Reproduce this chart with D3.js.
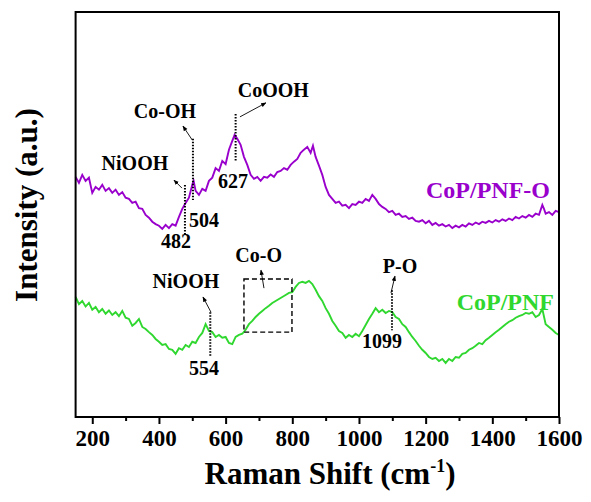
<!DOCTYPE html>
<html>
<head>
<meta charset="utf-8">
<script src="https://cdn.jsdelivr.net/npm/d3@7"></script>
<style>
  body { margin: 0; background: #fff; }
  svg text { font-family: "Liberation Serif", "Times New Roman", serif; font-weight: bold; }
</style>
</head>
<body>
<div id="chart"></div>
<script>
const width = 591;
const height = 502;

// Raman shift (cm-1) and intensity (a.u.)
const shiftO = [150,160,170,180,190,200,210,220,230,240,250,260,270,280,290,300,310,320,330,340,350,360,370,380,390,400,410,420,430,440,450,460,470,480,490,500,504,510,520,530,540,550,560,570,580,590,600,610,620,627,635,645,655,665,675,685,695,705,715,725,735,745,755,765,775,785,795,805,815,825,835,845,855,862,870,880,890,900,910,920,930,940,950,960,970,980,990,1000,1010,1020,1030,1040,1050,1060,1070,1080,1090,1100,1110,1120,1130,1140,1150,1160,1170,1180,1190,1200,1210,1220,1230,1240,1250,1260,1270,1280,1290,1300,1310,1320,1330,1340,1350,1360,1370,1380,1390,1400,1410,1420,1430,1440,1450,1460,1470,1480,1490,1500,1510,1520,1530,1540,1550,1555,1560,1570,1580,1590,1600];
const intensO = [600,585,605,590,598,560,575,568,580,565,572,560,568,555,562,548,545,535,538,522,520,505,498,488,482,478,470,480,472,482,478,500,520,535,548,580,590,565,555,570,565,590,598,622,615,640,632,668,690,705,695,680,650,630,605,595,600,590,600,598,606,600,612,615,622,618,630,638,645,660,668,675,660,678,650,628,605,575,555,545,535,538,528,530,522,532,530,538,535,545,540,555,545,532,525,520,512,515,505,508,500,502,495,498,490,488,492,484,490,480,485,478,482,476,480,472,478,474,480,476,484,480,486,482,488,485,490,486,492,488,494,490,496,492,500,496,502,498,505,500,508,505,530,520,508,512,505,515,512];

const shiftP = [150,160,170,180,190,200,210,220,230,240,250,260,270,280,290,300,310,320,330,340,350,360,370,380,390,400,410,420,430,440,450,460,470,480,490,500,510,520,530,540,550,560,570,580,590,600,610,620,630,640,650,660,670,680,690,700,710,720,730,740,750,760,770,780,790,800,810,820,830,840,850,860,870,880,890,900,910,920,930,940,950,960,970,980,990,1000,1010,1020,1030,1040,1050,1060,1070,1080,1090,1100,1110,1120,1130,1140,1150,1160,1170,1180,1190,1200,1210,1220,1230,1240,1250,1260,1270,1280,1290,1300,1310,1320,1330,1340,1350,1360,1370,1380,1390,1400,1410,1420,1430,1440,1450,1460,1470,1480,1490,1500,1510,1520,1530,1540,1550,1560,1570,1580,1590,1600];
const intensP = [300,282,290,276,285,268,275,262,270,258,266,255,262,252,265,248,245,228,235,245,225,220,212,205,195,188,180,182,170,168,158,172,168,180,175,188,185,200,210,232,215,212,200,205,198,200,185,182,200,205,208,218,232,240,250,258,265,272,278,285,290,295,300,305,310,312,325,335,338,335,340,332,318,302,290,272,258,240,228,215,210,198,205,200,208,202,215,230,245,258,272,262,268,260,265,262,250,245,232,225,212,200,190,178,168,160,150,145,148,140,145,135,145,140,150,148,158,160,168,172,178,185,182,192,198,205,212,218,225,232,238,242,248,252,255,260,258,262,250,255,270,232,225,218,210,205];

const xTicks = [200,400,600,800,1000,1200,1400,1600];
const xMinor = [300,500,700,900,1100,1300,1500];

// peak labels: text, shift, intensity
const labelText = ["NiOOH","Co-OH","CoOOH","504","482","627","NiOOH","Co-O","554","P-O","1099"];
const labelX    = [328, 418, 743, 535, 451, 622, 481, 699, 535, 1123, 1069];
const labelY    = [617, 747, 800, 475, 422, 572, 322, 387, 105, 360, 172];

// dotted peak markers: shift, from / to intensity
const markX  = [478, 502, 630, 554, 1099];
const markY1 = [580, 695, 757, 262, 317];
const markY2 = [455, 542, 637, 150, 217];

// arrows: from (x1,y1) to (x2,y2)
const arrX1 = [469, 500, 643, 556, 715, 1096];
const arrY1 = [572, 692, 750, 262, 322, 310];
const arrX2 = [445, 472, 721, 532, 706, 1108];
const arrY2 = [592, 727, 785, 300, 367, 352];

// Co-O region box
const boxX = [655, 799];
const boxY = [212, 345];

const purple = "#9900cc";
const green = "#2fd72f";

const x = d3.scaleLinear().domain([150, 1600]).range([75.6, 559]);
const y = d3.scaleLinear().domain([0, 1012]).range([417, 12]);

const svg = d3.select("#chart").append("svg")
  .attr("width", width)
  .attr("height", height);

svg.append("defs").append("marker")
  .attr("id", "head")
  .attr("viewBox", "0 0 10 10")
  .attr("refX", 9).attr("refY", 5)
  .attr("markerWidth", 6).attr("markerHeight", 6)
  .attr("orient", "auto")
  .append("path")
  .attr("d", "M0,1 L10,5 L0,9 Z")
  .attr("fill", "#000");

const line = d3.line().x(d => x(d[0])).y(d => y(d[1]));

svg.append("path")
  .datum(d3.zip(shiftO, intensO))
  .attr("d", line)
  .attr("fill", "none")
  .attr("stroke", purple)
  .attr("stroke-width", 1.9);

svg.append("path")
  .datum(d3.zip(shiftP, intensP))
  .attr("d", line)
  .attr("fill", "none")
  .attr("stroke", green)
  .attr("stroke-width", 1.9);

// frame
svg.append("rect")
  .attr("x", x(150)).attr("y", y(1012))
  .attr("width", x(1600) - x(150))
  .attr("height", y(0) - y(1012))
  .attr("fill", "none")
  .attr("stroke", "#000")
  .attr("stroke-width", 2);

const gx = svg.append("g").attr("transform", `translate(0,${y(0)})`)
  .call(d3.axisBottom(x).tickValues(xTicks).tickSize(7).tickPadding(6).tickFormat(d3.format("d")));
gx.select(".domain").remove();
gx.selectAll(".tick line").attr("stroke-width", 2);
gx.selectAll(".tick text").attr("font-size", 23).attr("fill", "#000")
  .style("font-family", "'Liberation Serif', serif").style("font-weight", "bold");

const gm = svg.append("g").attr("transform", `translate(0,${y(0)})`)
  .call(d3.axisBottom(x).tickValues(xMinor).tickSize(4).tickFormat(""));
gm.select(".domain").remove();
gm.selectAll(".tick line").attr("stroke-width", 2);

// dotted markers
svg.append("g").selectAll("line")
  .data(markX)
  .join("line")
  .attr("x1", d => x(d)).attr("x2", d => x(d))
  .attr("y1", (d, i) => y(markY1[i]))
  .attr("y2", (d, i) => y(markY2[i]))
  .attr("stroke", "#000")
  .attr("stroke-width", 2)
  .attr("stroke-dasharray", "1.5,1.5");

// arrows
svg.append("g").selectAll("line")
  .data(arrX1)
  .join("line")
  .attr("x1", d => x(d))
  .attr("y1", (d, i) => y(arrY1[i]))
  .attr("x2", (d, i) => x(arrX2[i]))
  .attr("y2", (d, i) => y(arrY2[i]))
  .attr("stroke", "#000")
  .attr("stroke-width", 0.9)
  .attr("marker-end", "url(#head)");

svg.append("rect")
  .attr("x", x(boxX[0])).attr("y", y(boxY[1]))
  .attr("width", x(boxX[1]) - x(boxX[0]))
  .attr("height", y(boxY[0]) - y(boxY[1]))
  .attr("fill", "none")
  .attr("stroke", "#000")
  .attr("stroke-width", 1.4)
  .attr("stroke-dasharray", "5,3");

svg.append("g").selectAll("text")
  .data(labelText)
  .join("text")
  .attr("x", (d, i) => x(labelX[i]))
  .attr("y", (d, i) => y(labelY[i]))
  .attr("text-anchor", "middle")
  .attr("font-size", 20)
  .text(d => d);

svg.append("text")
  .attr("x", x(1387)).attr("y", y(547))
  .attr("text-anchor", "middle")
  .attr("font-size", 24)
  .attr("fill", purple)
  .text("CoP/PNF-O");

svg.append("text")
  .attr("x", x(1439)).attr("y", y(267))
  .attr("text-anchor", "middle")
  .attr("font-size", 24)
  .attr("fill", green)
  .text("CoP/PNF");

// axis titles
const xt = svg.append("text")
  .attr("x", 330).attr("y", 484)
  .attr("text-anchor", "middle")
  .attr("font-size", 31);
xt.append("tspan").text("Raman Shift (cm");
xt.append("tspan").attr("font-size", 18).attr("dy", -12).text("-1");
xt.append("tspan").attr("dy", 12).text(")");

svg.append("text")
  .attr("transform", "translate(37,205) rotate(-90)")
  .attr("text-anchor", "middle")
  .attr("font-size", 31)
  .text("Intensity (a.u.)");
</script>
</body>
</html>
